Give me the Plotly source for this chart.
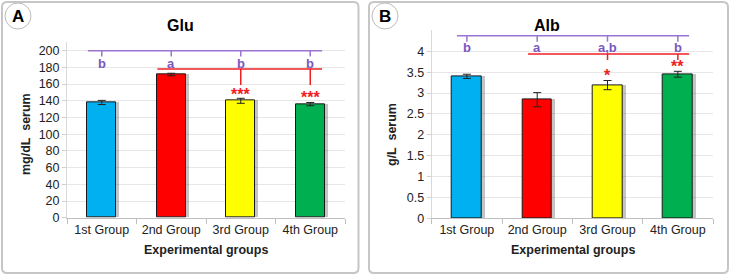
import plotly.graph_objects as go

# ---------------- data ----------------
groups = ["1st Group", "2nd Group", "3rd Group", "4th Group"]
bar_colors = ["#00B0F0", "#FF0000", "#FFFF00", "#00B050"]

glu_values = [138, 171.5, 140, 136]
glu_errors = [2.5, 1.5, 3, 2]
glu_letters = ["b", "a", "b", "b"]
glu_stars = ["", "", "***", "***"]

alb_values = [3.40, 2.84, 3.19, 3.45]
alb_errors = [0.05, 0.17, 0.11, 0.07]
alb_letters = ["b", "a", "a,b", "b"]
alb_stars = ["", "", "*", "**"]

W, H = 730, 275
FONT = "Liberation Sans, Arial, sans-serif"
PURPLE_LINE = "#9A74D0"
PURPLE_TXT = "#7B57C0"
RED = "#F02020"

fig = go.Figure()


def px_x(p):
    return p / W


def px_y(p):
    return 1 - p / H


def add_panel(idx, values, errors):
    xa = "x" if idx == 1 else "x2"
    ya = "y" if idx == 1 else "y2"
    # soft drop shadow
    fig.add_trace(go.Bar(
        x=groups, y=values, xaxis=xa, yaxis=ya, width=0.42, offset=-0.21 + 0.045,
        marker=dict(color="rgba(60,60,60,0.30)", line=dict(width=0)),
        hoverinfo="skip", showlegend=False))
    fig.add_trace(go.Bar(
        x=groups, y=values, xaxis=xa, yaxis=ya, width=0.42, offset=-0.21,
        marker=dict(color=bar_colors, line=dict(color="#1a1a1a", width=1)),
        error_y=dict(type="data", array=errors, color="#222222", thickness=1, width=4),
        showlegend=False))


add_panel(1, glu_values, glu_errors)
add_panel(2, alb_values, alb_errors)

axis_font = dict(family=FONT, size=12.5, color="#222222")

xcommon = dict(type="category", showgrid=False, showline=True, linecolor="#BFBFBF",
               linewidth=1, ticks="outside", tickson="boundaries", ticklen=5,
               tickcolor="#BFBFBF", tickfont=axis_font, range=[-0.5, 3.5], fixedrange=True)
ycommon = dict(showgrid=True, gridcolor="#E6E6E6", gridwidth=1, showline=True,
               linecolor="#D9D9D9", ticks="outside", ticklen=4, tickcolor="#D0D0D0",
               tickfont=axis_font, zeroline=False, fixedrange=True)

fig.update_layout(
    width=W, height=H, margin=dict(l=0, r=0, t=0, b=0, autoexpand=False),
    paper_bgcolor="white", plot_bgcolor="white", barmode="overlay",
    bargap=0,
    xaxis=dict(xcommon, domain=[px_x(67), px_x(345)], anchor="y"),
    yaxis=dict(ycommon, domain=[px_y(217.7), px_y(42.35)], anchor="x",
               range=[0, 210], tickvals=list(range(0, 201, 20))),
    xaxis2=dict(xcommon, domain=[px_x(431.7), px_x(713)], anchor="y2"),
    yaxis2=dict(ycommon, domain=[px_y(218.3), px_y(30.4)], anchor="x2",
                range=[0, 4.5], tickvals=[0, 0.5, 1, 1.5, 2, 2.5, 3, 3.5, 4],
                ticktext=["0", "0.5", "1", "1.5", "2", "2.5", "3", "3.5", "4"]),
    font=dict(family=FONT),
)

shapes = []
annotations = []


def text(xref, yref, x, y, t, size, color, angle=0):
    annotations.append(dict(xref=xref, yref=yref, x=x, y=y, text=t, showarrow=False,
                            xanchor="center", yanchor="middle", textangle=angle,
                            font=dict(family=FONT, size=size, color=color)))


def line(xa, ya, x0, y0, x1, y1, color, width=1.5):
    shapes.append(dict(type="line", xref=xa, yref=ya, x0=x0, y0=y0, x1=x1, y1=y1,
                       line=dict(color=color, width=width)))


def sig_marks(xa, ya, letters, stars, p_y, p_tick, p_lbl, p_x0, p_x1,
              r_y, r_tick, r_x0, star_pos):
    n = len(letters)
    line(xa, ya, p_x0, p_y, p_x1, p_y, PURPLE_LINE)
    for i in range(n):
        line(xa, ya, i, p_y, i, p_tick, PURPLE_LINE)
        text(xa, ya, i, p_lbl, f"<b>{letters[i]}</b>", 13, PURPLE_TXT)
    line(xa, ya, r_x0, r_y, p_x1, r_y, RED)
    for i in range(n):
        if stars[i]:
            line(xa, ya, i, r_y, i, r_tick[i], RED)
            text(xa, ya, i, star_pos[i], f"<b>{stars[i]}</b>", 16, RED)


sig_marks("x", "y", glu_letters, glu_stars,
          p_y=200, p_tick=193, p_lbl=185, p_x0=-0.2, p_x1=3.17,
          r_y=178, r_tick=[0, 0, 159, 159], r_x0=0.8, star_pos=[0, 0, 148, 144])
sig_marks("x2", "y2", alb_letters, alb_stars,
          p_y=4.37, p_tick=4.23, p_lbl=4.08, p_x0=-0.14, p_x1=3.16,
          r_y=3.935, r_tick=[0, 0, 3.79, 3.79], r_x0=0.87, star_pos=[0, 0, 3.42, 3.63])


# panel borders (rounded)
def rounded(x0, y0, x1, y1, r=5):
    rx, ry = r / W, r / H
    X0, X1 = px_x(x0), px_x(x1)
    Yt, Yb = px_y(y0), px_y(y1)
    return (f"M {X0+rx},{Yt} L {X1-rx},{Yt} Q {X1},{Yt} {X1},{Yt-ry} "
            f"L {X1},{Yb+ry} Q {X1},{Yb} {X1-rx},{Yb} L {X0+rx},{Yb} "
            f"Q {X0},{Yb} {X0},{Yb+ry} L {X0},{Yt-ry} Q {X0},{Yt} {X0+rx},{Yt} Z")


for (a, b) in [(2, 358.5), (369, 728)]:
    shapes.append(dict(type="path", xref="paper", yref="paper", path=rounded(a, 2, b, 273),
                       line=dict(color="#C6C6C6", width=2), layer="below"))

# panel letters in circles
for cx, letter in [(18, "A"), (385, "B")]:
    shapes.append(dict(type="circle", xref="paper", yref="paper",
                       x0=px_x(cx - 13), x1=px_x(cx + 13), y0=px_y(16 + 13), y1=px_y(16 - 13),
                       line=dict(color="#BDBDBD", width=1)))
    text("paper", "paper", px_x(cx), px_y(17), f"<b>{letter}</b>", 17, "black")

# titles
for cx, t in [(180, "Glu"), (547, "Alb")]:
    text("paper", "paper", px_x(cx), px_y(25), f"<b>{t}</b>", 16, "black")
for cx in [206, 573]:
    text("paper", "paper", px_x(cx), px_y(250), "<b>Experimental groups</b>", 12.5, "#222222")
for cx, cy, t in [(26, 134, "mg/dL  serum"), (392, 135, "g/L  serum")]:
    text("paper", "paper", px_x(cx), px_y(cy), f"<b>{t}</b>", 12.5, "#222222", angle=-90)

fig.update_layout(shapes=shapes, annotations=annotations)
fig.write_html("out.html", config={"displayModeBar": False},
               post_script="document.body.style.margin='0';document.body.style.overflow='hidden';")
